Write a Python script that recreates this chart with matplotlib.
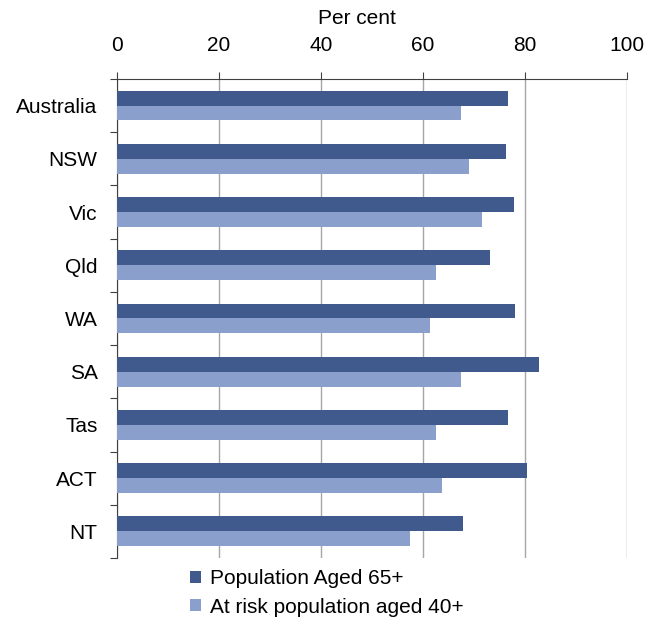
import matplotlib.pyplot as plt
import numpy as np

# data
states = ['Australia', 'NSW', 'Vic', 'Qld', 'WA', 'SA', 'Tas', 'ACT', 'NT']
aged_65 = [76.6, 76.2, 77.8, 73.2, 78.1, 82.7, 76.6, 80.4, 67.8]
at_risk_40 = [67.5, 69.0, 71.6, 62.5, 61.3, 67.5, 62.5, 63.7, 57.5]
series_names = ['Population Aged 65+', 'At risk population aged 40+']

plt.rcParams['font.family'] = ['Liberation Sans', 'DejaVu Sans']
fs = 15

fig = plt.figure(figsize=(6.45, 6.17), dpi=100)
ax = fig.add_axes([0.1814, 0.0956, 0.7907, 0.7764])

y = np.arange(len(states))
h = 0.28
ax.barh(y - h / 2, aged_65, height=h, color='#405A8E', label=series_names[0], zorder=3)
ax.barh(y + h / 2, at_risk_40, height=h, color='#8A9FCB', label=series_names[1], zorder=3)

ax.set_xlim(0, 100)
ax.set_ylim(len(states) - 0.5, -0.5)

# x axis on top
ax.xaxis.tick_top()
ax.xaxis.set_label_position('top')
ax.set_xticks([0, 20, 40, 60, 80, 100])
ax.set_xlabel('Per cent', fontsize=fs)
ax.xaxis.set_label_coords(0.47, 1.115)
ax.tick_params(axis='x', direction='out', length=5, width=0.8, color='#404040',
               labelsize=fs, pad=12)
ax.grid(axis='x', color='#A6A6A6', linewidth=1.0, zorder=0)

# category labels, boundary ticks on the left
ax.set_yticks(y)
ax.set_yticklabels(states)
ax.set_yticks(np.arange(-0.5, len(states), 1.0), minor=True)
ax.tick_params(axis='y', which='major', length=0, labelsize=fs, pad=14)
ax.tick_params(axis='y', which='minor', length=5, width=0.8, color='#404040', direction='out')

for side in ['right', 'bottom']:
    ax.spines[side].set_visible(False)
for side in ['left', 'top']:
    ax.spines[side].set_color('#404040')
    ax.spines[side].set_linewidth(0.8)

fig.legend(loc='upper left', bbox_to_anchor=(0.281, 0.091), frameon=False,
           fontsize=fs, handlelength=0.55, handleheight=0.55, handletextpad=0.45,
           labelspacing=0.45, borderaxespad=0)

fig.savefig('out.png', dpi=100, facecolor='white')
